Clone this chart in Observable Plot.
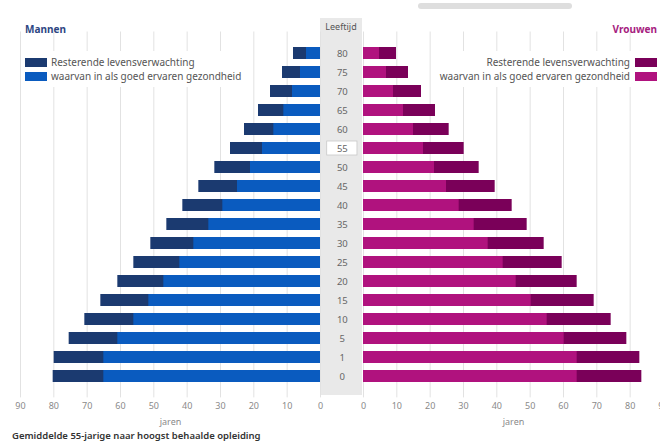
<!DOCTYPE html>
<html>
<head>
<meta charset="utf-8">
<script src="https://cdn.jsdelivr.net/npm/d3@7"></script>
<script src="https://cdn.jsdelivr.net/npm/@observablehq/plot@0.6"></script>
<style>
  html, body { margin: 0; padding: 0; background: #fff; }
  #root { position: relative; width: 660px; height: 445px; overflow: hidden; font-family: "Noto Sans", "Open Sans", sans-serif; }
  .abs { position: absolute; }
  .abs svg { max-width: none !important; }
  .leg { position: absolute; background: #fff; font-size: 10px; color: #555; }
  .row { display: flex; align-items: center; height: 14px; white-space: nowrap; }
  .sw { width: 22px; height: 9px; display: inline-block; }
</style>
</head>
<body>
<div id="root"></div>
<script>
const ages = [80, 75, 70, 65, 60, 55, 50, 45, 40, 35, 30, 25, 20, 15, 10, 5, 1, 0];
const menTotal = [8.1, 11.4, 15.0, 18.6, 22.8, 27.0, 31.7, 36.5, 41.3, 46.1, 50.9, 56.0, 60.8, 65.9, 70.7, 75.4, 79.9, 80.2];
const menHealthy = [4.2, 6.0, 8.4, 11.0, 14.0, 17.4, 21.0, 24.9, 29.3, 33.5, 38.0, 42.2, 47.0, 51.5, 56.0, 60.8, 65.0, 65.0];
const womenTotal = [9.9, 13.5, 17.4, 21.6, 25.7, 30.2, 34.7, 39.5, 44.6, 49.1, 54.2, 59.6, 64.1, 69.2, 74.3, 79.0, 82.9, 83.5];
const womenHealthy = [4.8, 6.9, 9.0, 12.0, 15.0, 18.0, 21.3, 24.9, 28.7, 33.2, 37.4, 41.9, 45.8, 50.3, 55.1, 60.2, 64.1, 64.1];
const xTicks = [0, 10, 20, 30, 40, 50, 60, 70, 80, 90];
const highlightAge = [55];
const seriesLabels = ["Resterende levensverwachting", "waarvan in als goed ervaren gezondheid"];
const menColors = ["#1b3a70", "#0a5bbf"];
const womenColors = ["#7a0059", "#b0127e"];
const titles = ["Mannen", "Vrouwen"];
const centerTitle = "Leeftijd";
const axisLabel = "jaren";
const caption = "Gemiddelde 55-jarige naar hoogst behaalde opleiding";

const men = ages.map((a, i) => ({age: a, total: menTotal[i], healthy: menHealthy[i]}));
const women = ages.map((a, i) => ({age: a, total: womenTotal[i], healthy: womenHealthy[i]}));

const root = document.getElementById("root");
const font = '"Noto Sans", "Open Sans", sans-serif';
const H = 430, MT = 31.5, MB = 32.6;

function place(el, left, top, width) {
  const w = document.createElement("div");
  w.className = "abs";
  w.style.left = left + "px";
  w.style.top = top + "px";
  if (width) w.style.width = width + "px";
  w.appendChild(el);
  root.appendChild(w);
  return w;
}

function side(data, colors, reverse) {
  return Plot.plot({
    width: 330, height: H,
    marginLeft: 20, marginRight: 10, marginTop: MT, marginBottom: MB,
    style: {fontFamily: font, fontSize: "9px", color: "#8a8a8a", background: "transparent", overflow: "visible", maxWidth: "none"},
    x: {domain: [0, 90], reverse, ticks: xTicks, tickFormat: d => d, tickSize: 0, tickPadding: 5,
        label: axisLabel, labelAnchor: "center", labelArrow: "none", labelOffset: 27},
    y: {domain: ages, padding: 0.35, axis: null},
    marks: [
      Plot.gridX(xTicks, {stroke: "#e2e2e2", strokeOpacity: 1}),
      Plot.barX(data, {y: "age", x: "total", fill: colors[0]}),
      Plot.barX(data, {y: "age", x: "healthy", fill: colors[1]})
    ]
  });
}

// center gray band
const band = document.createElement("div");
band.style.cssText = "width:42px;height:377px;background:#e9e9e9;";
place(band, 320, 18, 42);

place(side(men, menColors, true), 0, 0, 330);
place(side(women, womenColors, false), 343, 0, 330);

const center = Plot.plot({
  width: 42, height: H,
  marginLeft: 0, marginRight: 0, marginTop: MT, marginBottom: MB,
  style: {fontFamily: font, fontSize: "9.5px", color: "#666", background: "transparent", overflow: "visible", maxWidth: "none"},
  x: {domain: [0, 1], axis: null},
  y: {domain: ages, padding: 0.35, axis: null},
  marks: [
    Plot.barX(highlightAge, {y: d => d, x1: 0.16, x2: 0.88, fill: "#fff", stroke: "#c8c8c8", strokeWidth: 0.8, insetTop: -1, insetBottom: -1}),
    Plot.text(ages, {y: d => d, x: 0.52, text: d => String(d), fill: "#666"})
  ]
});
place(center, 320, 0, 42);

// center title
const ct = document.createElement("div");
ct.textContent = centerTitle;
ct.style.cssText = "width:42px;text-align:center;font-size:9px;color:#555;";
place(ct, 320, 20, 42);

// titles
const t1 = document.createElement("div");
t1.textContent = titles[0];
t1.style.cssText = "font-size:10px;font-weight:bold;color:#2d4682;";
place(t1, 25, 22);
const t2 = document.createElement("div");
t2.textContent = titles[1];
t2.style.cssText = "font-size:10px;font-weight:bold;color:#a6217f;width:100px;text-align:right;";
place(t2, 557, 22, 100);

// legends
function legend(colors, right) {
  const d = document.createElement("div");
  d.className = "leg";
  d.style.padding = "4px 4px";
  seriesLabels.forEach((lab, i) => {
    const r = document.createElement("div");
    r.className = "row";
    if (right) r.style.justifyContent = "flex-end";
    const sw = document.createElement("span");
    sw.className = "sw";
    sw.style.background = colors[i];
    const tx = document.createElement("span");
    tx.textContent = lab;
    if (right) { tx.style.marginRight = "5px"; r.appendChild(tx); r.appendChild(sw); }
    else { tx.style.marginLeft = "4px"; r.appendChild(sw); r.appendChild(tx); }
    d.appendChild(r);
  });
  return d;
}
const l1 = legend(menColors, false);
l1.style.left = "21px"; l1.style.top = "51px";
root.appendChild(l1);
const l2 = legend(womenColors, true);
l2.style.right = "-1px"; l2.style.top = "51px";
root.appendChild(l2);

// top scroll thumb
const thumb = document.createElement("div");
thumb.style.cssText = "width:154px;height:6px;background:#dedede;border-radius:3px;";
place(thumb, 418, 3, 154);

// caption
const cap = document.createElement("div");
cap.textContent = caption;
cap.style.cssText = "font-size:9.5px;font-weight:600;color:#333;white-space:nowrap;";
place(cap, 12, 429);
</script>
</body>
</html>
